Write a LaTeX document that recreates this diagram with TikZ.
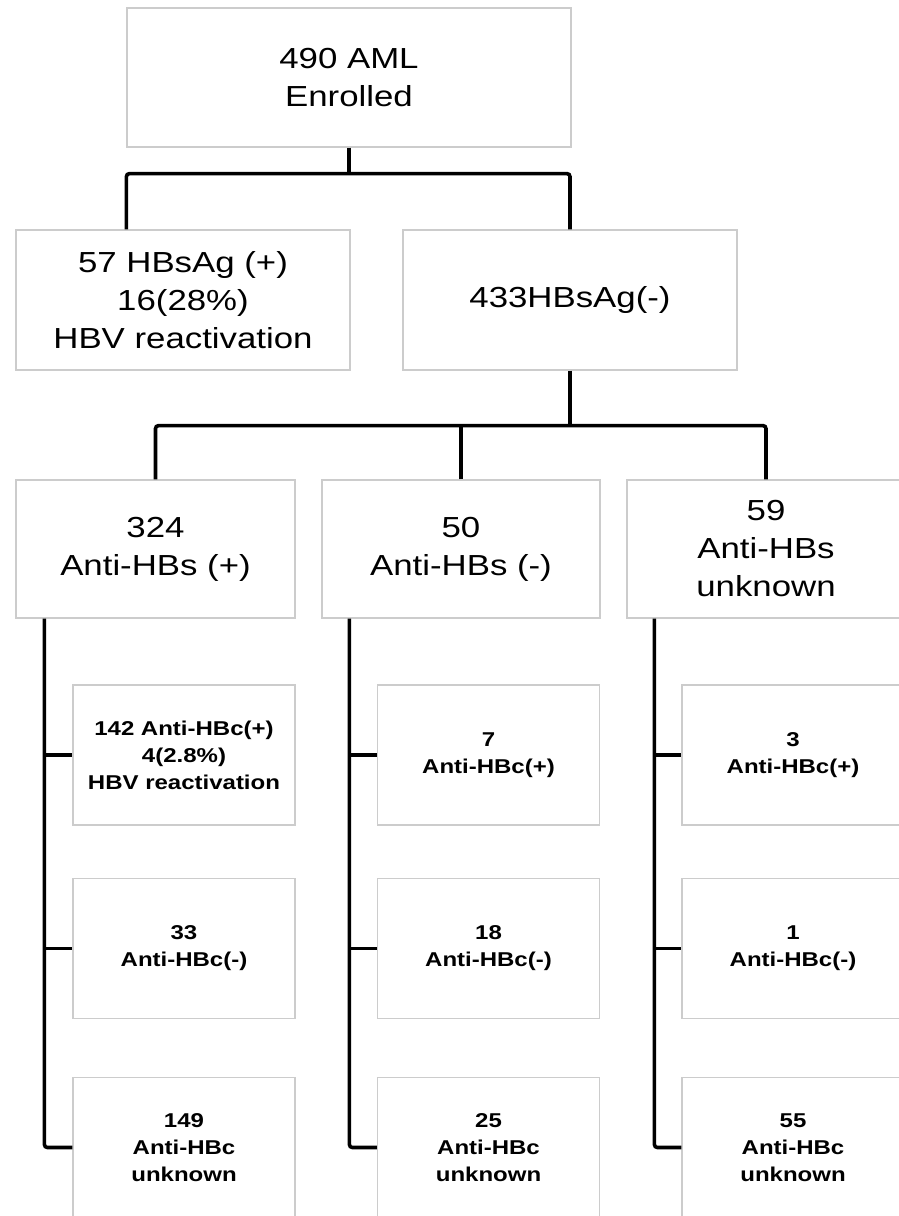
\documentclass[tikz,border=0pt]{standalone}
\usepackage{fontspec}
\setmainfont{Liberation Sans}[FakeStretch=1.2]

\tikzset{
  box/.style={draw=black!20, line width=1.2pt, fill=white, align=center,
    inner sep=0pt, font=\fontsize{29}{38}\selectfont},
  smallbox/.style={box, minimum width=222pt, minimum height=140pt,
    font=\fontsize{20}{27}\selectfont\bfseries},
  conn/.style={draw=black, line width=3.6pt, rounded corners=3pt}
}

\begin{document}
\begin{tikzpicture}[x=1pt,y=-1pt]
  \useasboundingbox (0,0) rectangle (898,1216);

  % top
  \node[box, minimum width=444pt, minimum height=139pt] (enrol) at (349,77.5) {490 AML\\Enrolled};
  \node[box, minimum width=334pt, minimum height=140pt] (pos) at (183,300) {57 HBsAg (+)\\16(28\%)\\HBV reactivation};
  \node[box, minimum width=334pt, minimum height=140pt] (neg) at (570,300) {433HBsAg(-)};

  % anti-HBs
  \node[box, minimum width=279pt, minimum height=138pt] (hbsp) at (155.5,549) {324\\Anti-HBs (+)};
  \node[box, minimum width=278pt, minimum height=138pt] (hbsn) at (461,549) {50\\Anti-HBs (-)};
  \node[box, minimum width=278pt, minimum height=138pt] (hbsu) at (766,549) {59\\Anti-HBs\\unknown};

  % anti-HBc
  \node[smallbox] (cp1) at (184,755) {142 Anti-HBc(+)\\4(2.8\%)\\HBV reactivation};
  \node[smallbox] (cn1) at (184,948.5) {33\\Anti-HBc(-)};
  \node[smallbox] (cu1) at (184,1147.5) {149\\Anti-HBc\\unknown};
  \node[smallbox] (cp2) at (488.5,755) {7\\Anti-HBc(+)};
  \node[smallbox] (cn2) at (488.5,948.5) {18\\Anti-HBc(-)};
  \node[smallbox] (cu2) at (488.5,1147.5) {25\\Anti-HBc\\unknown};
  \node[smallbox] (cp3) at (793,755) {3\\Anti-HBc(+)};
  \node[smallbox] (cn3) at (793,948.5) {1\\Anti-HBc(-)};
  \node[smallbox] (cu3) at (793,1147.5) {55\\Anti-HBc\\unknown};

  % connectors
  \draw[conn] (enrol.south) -- ++(0,26) coordinate (j1);
  \draw[conn] (pos.north -| enrol.west) |- (j1) -| (neg.north);
  \draw[conn] (neg.south) -- ++(0,55) coordinate (j2);
  \draw[conn] (hbsp.north) |- (j2) -| (hbsu.north);
  \draw[conn] (hbsn.north) -- (hbsn.north |- j2);

  \coordinate (t1) at ([xshift=29pt]hbsp.south west);
  \coordinate (t2) at ([xshift=28pt]hbsn.south west);
  \coordinate (t3) at ([xshift=28pt]hbsu.south west);
  \draw[conn] (t1) |- (cu1.west);
  \draw[conn] (t1 |- cp1.west) -- (cp1.west);
  \draw[conn] (t1 |- cn1.west) -- (cn1.west);
  \draw[conn] (t2) |- (cu2.west);
  \draw[conn] (t2 |- cp2.west) -- (cp2.west);
  \draw[conn] (t2 |- cn2.west) -- (cn2.west);
  \draw[conn] (t3) |- (cu3.west);
  \draw[conn] (t3 |- cp3.west) -- (cp3.west);
  \draw[conn] (t3 |- cn3.west) -- (cn3.west);
\end{tikzpicture}
\end{document}
